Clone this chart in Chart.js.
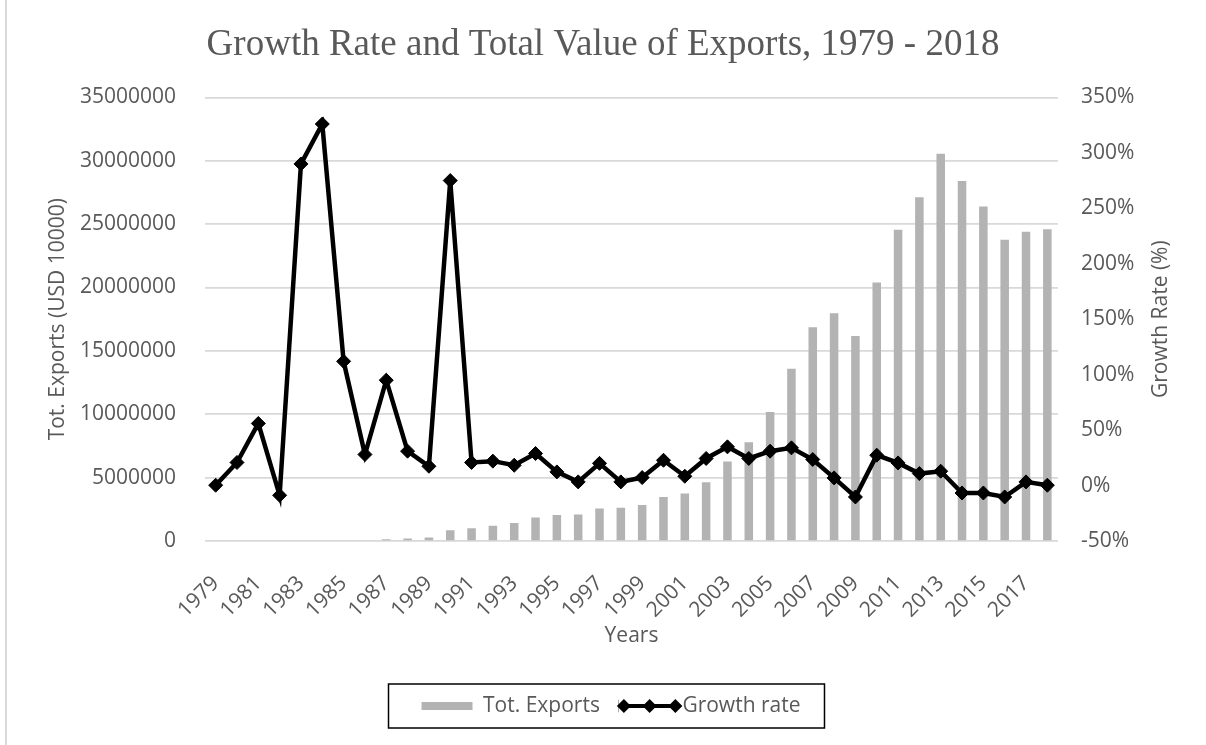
<!DOCTYPE html>
<html>
<head>
<meta charset="utf-8">
<script src="https://cdn.jsdelivr.net/npm/chart.js@4/dist/chart.umd.min.js"></script>
<style>
  html, body { margin: 0; padding: 0; background: #fff; }
  #wrap { width: 1206px; height: 745px; position: relative; }
</style>
</head>
<body>
<div id="wrap"><canvas id="chart"></canvas></div>
<script>
const years = [];
for (let y = 1979; y <= 2018; y++) years.push(String(y));

// Tot. Exports (USD 10000)
const totExports = [
  0, 0, 0, 0, 0, 0, 0, 0, 130000, 200000,
  270000, 850000, 1000000, 1200000, 1420000, 1850000, 2060000, 2100000, 2560000, 2630000,
  2850000, 3480000, 3740000, 4640000, 6270000, 7800000, 10170000, 13600000, 16860000, 17970000,
  16170000, 20400000, 24550000, 27130000, 30550000, 28400000, 26400000, 23760000, 24390000, 24600000
];

// Growth rate (%)
const growthRate = [
  0.3, 20.8, 56, -8.8, 290, 326, 112, 28, 95, 31,
  17.4, 275, 20.8, 22, 18.3, 28.9, 12.3, 3.3, 20, 3.3,
  7.2, 22.8, 8.4, 24.4, 34.9, 24.4, 31, 34, 23.5, 6.9,
  -10.3, 27.4, 20.4, 10.8, 12.9, -6.7, -6.7, -10.3, 3.3, 0.3
];

const grey = "#595959";
const sans = "'Open Sans', 'DejaVu Sans', sans-serif";

const excelBits = {
  id: "excelBits",
  afterLayout(chart) {
    // nudge legend items a bit right, Chart.js counts the trailing padding when centering
    chart.legend.left += 8;
    chart.legend.right += 8;
  },
  beforeDraw(chart) {
    const ctx = chart.ctx;
    ctx.save();
    ctx.fillStyle = "#fff";
    ctx.fillRect(0, 0, chart.width, chart.height);
    ctx.fillStyle = "#d9d9d9";
    ctx.fillRect(5, 0, 2, chart.height);
    ctx.restore();
  },
  afterDraw(chart) {
    const { ctx, chartArea } = chart;
    const y1 = chart.scales.y1;

    // right axis title reads bottom-to-top like Excel
    ctx.save();
    ctx.translate(y1.right - 45, (chartArea.top + chartArea.bottom) / 2);
    ctx.rotate(-Math.PI / 2);
    ctx.font = "21px " + sans;
    ctx.fillStyle = grey;
    ctx.textAlign = "center";
    ctx.textBaseline = "middle";
    ctx.fillText("Growth Rate (%)", 0, 0);
    ctx.restore();

    // legend frame + line swatch with diamonds
    const boxes = chart.legend.legendHitBoxes;
    if (!boxes || boxes.length < 2) return;
    const bw = chart.options.plugins.legend.labels.boxWidth;
    const hb = boxes[1];
    const cy = hb.top + hb.height / 2;
    ctx.save();
    ctx.fillStyle = "#fff";
    ctx.fillRect(hb.left - 2, hb.top, bw + 6, hb.height);
    const x0 = hb.left + 3, x1 = hb.left + bw + 3.5;
    ctx.strokeStyle = "#000";
    ctx.lineWidth = 4;
    ctx.beginPath();
    ctx.moveTo(x0, cy);
    ctx.lineTo(x1, cy);
    ctx.stroke();
    ctx.fillStyle = "#000";
    [x0, (x0 + x1) / 2, x1].forEach((px) => {
      ctx.beginPath();
      ctx.moveTo(px, cy - 7);
      ctx.lineTo(px + 7, cy);
      ctx.lineTo(px, cy + 7);
      ctx.lineTo(px - 7, cy);
      ctx.closePath();
      ctx.fill();
    });
    const left = Math.min(...boxes.map((b) => b.left)) - 33;
    const right = Math.max(...boxes.map((b) => b.left + b.width)) + 24;
    ctx.strokeStyle = "#000";
    ctx.lineWidth = 1.5;
    ctx.strokeRect(left, cy - 22, right - left, 44);
    ctx.restore();
  },
};

new Chart(document.getElementById("chart"), {
  type: "bar",
  data: {
    labels: years,
    datasets: [
      {
        type: "bar",
        label: "Tot. Exports",
        data: totExports,
        backgroundColor: "#b3b3b3",
        borderWidth: 0,
        categoryPercentage: 0.4,
        barPercentage: 1,
        yAxisID: "y",
        order: 1,
      },
      {
        type: "line",
        label: "Growth rate",
        data: growthRate,
        borderColor: "#000",
        backgroundColor: "#000",
        borderWidth: 4.5,
        pointStyle: "rectRot",
        pointRadius: 7,
        pointBackgroundColor: "#000",
        pointBorderColor: "#000",
        pointBorderWidth: 1,
        tension: 0,
        yAxisID: "y1",
        order: 0,
      },
    ],
  },
  options: {
    responsive: true,
    maintainAspectRatio: false,
    animation: false,
    layout: { padding: { left: 0, right: 0, top: 0, bottom: 18.5 } },
    plugins: {
      title: {
        display: true,
        text: "Growth Rate and Total Value of Exports, 1979 - 2018",
        color: grey,
        font: { family: "'Liberation Serif', 'Times New Roman', serif", size: 37, weight: "normal" },
        padding: { top: 23, bottom: 30 },
      },
      legend: {
        position: "bottom",
        labels: {
          color: grey,
          font: { family: sans, size: 21 },
          boxWidth: 51,
          boxHeight: 8,
          padding: 21,
          sort: (a, b) => a.datasetIndex - b.datasetIndex,
        },
      },
      tooltip: { enabled: false },
    },
    scales: {
      x: {
        grid: { display: false },
        border: { display: false },
        afterFit: (s) => { s.height = 133.5; },
        ticks: {
          color: grey,
          font: { family: sans, size: 21 },
          autoSkip: false,
          minRotation: 45,
          maxRotation: 45,
          padding: 22,
          callback: (v, i) => (i % 2 === 0 ? years[i] : ""),
        },
        title: {
          display: true,
          text: "Years",
          color: grey,
          font: { family: sans, size: 21 },
          padding: { top: 0, bottom: 26 },
        },
      },
      y: {
        position: "left",
        min: 0,
        max: 35000000,
        afterFit: (s) => { s.width = 205; },
        grid: { color: "#d9d9d9", lineWidth: 1.7, drawTicks: false },
        border: { display: false },
        ticks: {
          stepSize: 5000000,
          color: grey,
          font: { family: sans, size: 21 },
          padding: 29,
          callback: (v) => String(v),
        },
        title: {
          display: true,
          text: "Tot. Exports (USD 10000)",
          color: grey,
          font: { family: sans, size: 21 },
          padding: { top: 45, bottom: 0 },
        },
      },
      y1: {
        position: "right",
        min: -50,
        max: 350,
        afterFit: (s) => { s.width = 148; },
        grid: { display: false, drawTicks: false },
        border: { display: false },
        ticks: {
          stepSize: 50,
          color: grey,
          font: { family: sans, size: 21 },
          padding: 23,
          callback: (v) => v + "%",
        },
      },
    },
  },
  plugins: [excelBits],
});
</script>
</body>
</html>
